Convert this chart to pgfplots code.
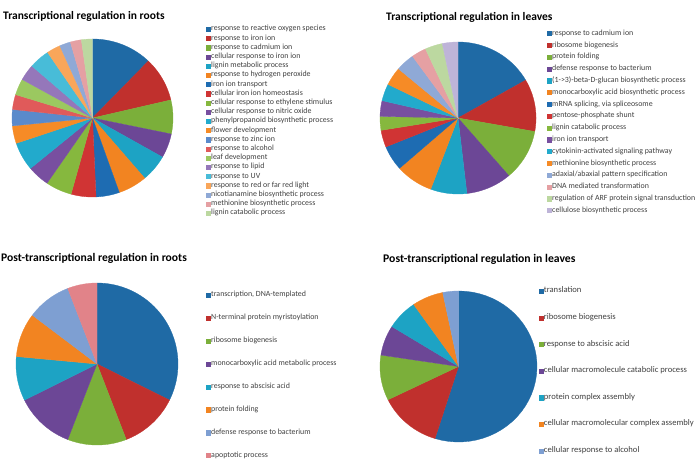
\documentclass[border=0pt]{standalone}
\usepackage{pgfplots}
\pgfplotsset{compat=1.18}
\usepackage{fontspec}
\setmainfont{Carlito}
\definecolor{cB}{HTML}{1F6AA5}
\definecolor{cR}{HTML}{C0302D}
\definecolor{cG}{HTML}{7BAF3A}
\definecolor{cP}{HTML}{6C4796}
\definecolor{cT}{HTML}{1DA3C4}
\definecolor{cO}{HTML}{F28421}
\definecolor{cBb}{HTML}{1E6CB2}
\definecolor{cRb}{HTML}{D03434}
\definecolor{cGb}{HTML}{86B83E}
\definecolor{cPb}{HTML}{784FA0}
\definecolor{cTb}{HTML}{22AACC}
\definecolor{cOb}{HTML}{F68B26}
\definecolor{cBl}{HTML}{5A8ACB}
\definecolor{cRl}{HTML}{E05A5A}
\definecolor{cGl}{HTML}{9BC860}
\definecolor{cPl}{HTML}{9577BA}
\definecolor{cTl}{HTML}{48BCD8}
\definecolor{cOl}{HTML}{F9A65A}
\definecolor{cBx}{HTML}{8FA9D6}
\definecolor{cRx}{HTML}{E5A0A3}
\definecolor{cGx}{HTML}{BCD8A0}
\definecolor{cPx}{HTML}{BEB4D8}
\definecolor{cBy}{HTML}{7E9FD2}
\definecolor{cRy}{HTML}{E18389}
\definecolor{lgray}{HTML}{404040}

% pie helpers: values are plain numbers, angles accumulate clockwise from 12 o'clock
\newcommand\piesetup[6]{% cx, cy, rx, ry, total, dummy
  \gdef\pcx{#1}\gdef\pcy{#2}\gdef\prx{#3}\gdef\pry{#4}%
  \pgfmathsetmacro\tmpscale{360/#5}\xdef\piescale{\tmpscale}\gdef\piecum{0}}
\newcommand\pieslice[3]{%
  \pgfmathsetmacro\pa{90-(\piecum+#1)*\piescale}%
  \pgfmathsetmacro\pb{90-\piecum*\piescale}%
  \pgfmathsetmacro\newcum{\piecum+#1}%
  \xdef\piecum{\newcum}%
  \edef\doslice{\noexpand\addplot[fill=#2, draw=#2, line width=0.3pt, domain=\pa:\pb, samples=40, variable=\noexpand\t] ({\pcx+\prx*cos(\noexpand\t)},{\pcy+\pry*sin(\noexpand\t)}) -- (axis cs:\pcx,\pcy) -- cycle;}%
  \doslice
  \addlegendentry{#3}%
}
\pgfplotsset{
  piepanel/.style={
    width=696pt, height=460pt, scale only axis,
    xmin=0, xmax=696, ymin=-460, ymax=0,
    hide axis, clip=false,
    at={(0pt,0pt)}, anchor=north west,
    legend cell align=left,
    legend image code/.code={\fill[##1] (0pt,-2.1pt) rectangle (4.2pt,2.1pt);},
    legend style={anchor=north west, draw=none, fill=none, inner sep=0pt,
      font=\fontsize{7.9}{8}\selectfont, text=lgray,
      nodes={inner sep=0.5pt, text height=5pt, text depth=1.5pt}},
  }
}
\begin{document}
\begin{tikzpicture}
\useasboundingbox (0pt,0pt) rectangle (696pt,-460pt);
% titles
\node[anchor=west, inner sep=0pt, font=\bfseries\fontsize{11.5}{12}\selectfont] at (3pt,-16.5pt) {Transcriptional regulation in roots};
\node[anchor=west, inner sep=0pt, font=\bfseries\fontsize{11.5}{12}\selectfont] at (386pt,-17pt) {Transcriptional regulation in leaves};
\node[anchor=west, inner sep=0pt, font=\bfseries\fontsize{11.6}{12}\selectfont] at (1pt,-258.5pt) {Post-transcriptional regulation in roots};
\node[anchor=west, inner sep=0pt, font=\bfseries\fontsize{11.7}{12}\selectfont] at (383pt,-259pt) {Post-transcriptional regulation in leaves};

% Panel 1
\begin{axis}[piepanel, legend style={at={(0.2960,0.9451)}, row sep=1.7pt}]
\piesetup{92.5}{-118}{80.5}{79}{361}{}
\pieslice{44}{cB}{response to reactive oxygen species}
\pieslice{33}{cR}{response to iron ion}
\pieslice{25}{cG}{response to cadmium ion}
\pieslice{18}{cP}{cellular response to iron ion}
\pieslice{20}{cT}{lignin metabolic process}
\pieslice{21}{cO}{response to hydrogen peroxide}
\pieslice{17}{cBb}{iron ion transport}
\pieslice{18}{cRb}{cellular iron ion homeostasis}
\pieslice{19}{cGb}{cellular response to ethylene stimulus}
\pieslice{16}{cPb}{cellular response to nitric oxide}
\pieslice{21}{cTb}{phenylpropanoid biosynthetic process}
\pieslice{13}{cOb}{flower development}
\pieslice{12}{cBl}{response to zinc ion}
\pieslice{11}{cRl}{response to alcohol}
\pieslice{12}{cGl}{leaf development}
\pieslice{12}{cPl}{response to lipid}
\pieslice{15}{cTl}{response to UV}
\pieslice{10}{cOl}{response to red or far red light}
\pieslice{8}{cBx}{nicotianamine biosynthetic process}
\pieslice{8}{cRx}{methionine biosynthetic process}
\pieslice{8}{cGx}{lignin catabolic process}
\end{axis}

% Panel 2
\begin{axis}[piepanel, legend style={at={(0.7859,0.9357)}, row sep=4.3pt}]
\piesetup{458}{-118}{78}{76}{359.1}{}
\pieslice{60}{cB}{response to cadmium ion}
\pieslice{40}{cR}{ribosome biogenesis}
\pieslice{39}{cG}{protein folding}
\pieslice{34}{cP}{defense response to bacterium}
\pieslice{27}{cT}{(1->3)-beta-D-glucan biosynthetic process}
\pieslice{28}{cO}{monocarboxylic acid biosynthetic process}
\pieslice{19}{cBb}{mRNA splicing, via spliceosome}
\pieslice{13}{cRb}{pentose-phosphate shunt}
\pieslice{10.5}{cGb}{lignin catabolic process}
\pieslice{12}{cPb}{iron ion transport}
\pieslice{13}{cTb}{cytokinin-activated signaling pathway}
\pieslice{14}{cOb}{methionine biosynthetic process}
\pieslice{14}{cBx}{adaxial/abaxial pattern specification}
\pieslice{11}{cRx}{DNA mediated transformation}
\pieslice{13}{cGx}{regulation of ARF protein signal transduction}
\pieslice{11.6}{cPx}{cellulose biosynthetic process}
\end{axis}

% Panel 3
\begin{axis}[piepanel, legend style={at={(0.2960,0.3668)}, row sep=15.4pt}]
\piesetup{97}{-364}{81}{81}{34}{}
\pieslice{11}{cB}{transcription, DNA-templated}
\pieslice{4}{cR}{N-terminal protein myristoylation}
\pieslice{4}{cG}{ribosome biogenesis}
\pieslice{4}{cP}{monocarboxylic acid metabolic process}
\pieslice{3}{cT}{response to abscisic acid}
\pieslice{3}{cO}{protein folding}
\pieslice{3}{cBy}{defense response to bacterium}
\pieslice{2}{cRy}{apoptotic process}
\end{axis}

% Panel 4
\begin{axis}[piepanel, legend style={at={(0.7740,0.3755)}, row sep=19.1pt, font=\fontsize{8.6}{8}\selectfont}]
\piesetup{458.5}{-366.5}{78.5}{75.5}{31}{}
\pieslice{17}{cB}{translation}
\pieslice{4}{cR}{ribosome biogenesis}
\pieslice{3}{cG}{response to abscisic acid}
\pieslice{2}{cP}{cellular macromolecule catabolic process}
\pieslice{2}{cT}{protein complex assembly}
\pieslice{2}{cO}{cellular macromolecular complex assembly}
\pieslice{1}{cBy}{cellular response to alcohol}
\end{axis}
\end{tikzpicture}
\end{document}
